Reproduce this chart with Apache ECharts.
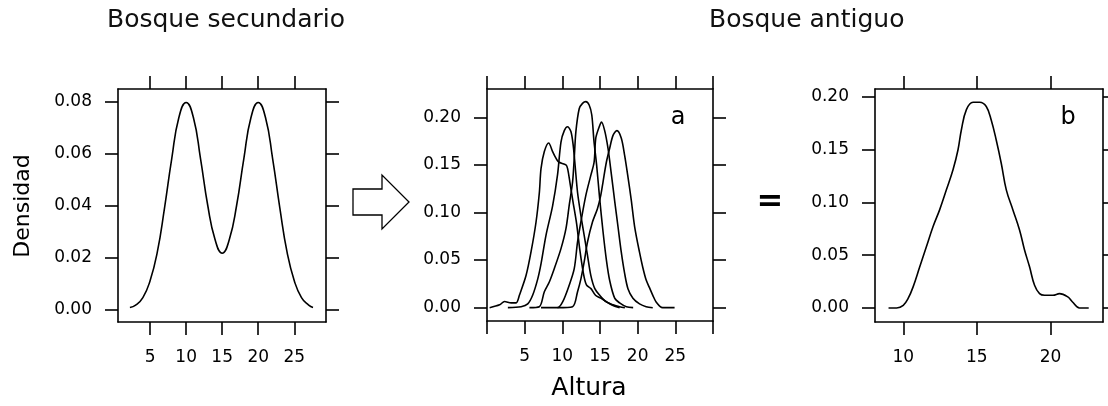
<!DOCTYPE html>
<html>
<head>
<meta charset="utf-8">
<script src="https://cdn.jsdelivr.net/npm/echarts@6/dist/echarts.min.js"></script>
<style>
html,body{margin:0;padding:0;background:#fff;}
#chart{width:1108px;height:406px;}
</style>
</head>
<body>
<div id="chart"></div>
<script>
// panel 1: bosque secundario
var secX = [2.2, 3, 4, 5, 6, 7, 8, 9, 10, 11, 12, 13, 14, 15, 16, 17, 18, 19, 20, 21, 22, 23, 24, 25, 26, 27, 27.6];
var secY = [0.0007, 0.0016, 0.0045, 0.011, 0.022, 0.039, 0.058, 0.074, 0.0797, 0.074, 0.058, 0.040, 0.027, 0.0216, 0.027, 0.040, 0.058, 0.074, 0.0797, 0.074, 0.058, 0.039, 0.022, 0.011, 0.0045, 0.0016, 0.0007];

// panel a: curvas desplazadas
var aX = [0.35, 1.67, 2.33, 3.21, 3.87, 4.31, 5.19, 5.85, 6.51, 6.95, 7.17, 7.61, 8.19, 8.71, 9.15, 9.5, 10.48, 10.7, 11.0, 11.4, 11.9, 12.3, 12.8, 13.2, 13.8, 14.4, 15.1, 16.1, 16.8, 17.6];
var aY = [0, 0.003, 0.0065, 0.005, 0.005, 0.0133, 0.034, 0.0588, 0.090, 0.121, 0.146, 0.164, 0.173, 0.164, 0.157, 0.153, 0.150, 0.146, 0.132, 0.112, 0.088, 0.062, 0.036, 0.024, 0.020, 0.013, 0.010, 0.005, 0.002, 0];
var bX = [2.77, 4.53, 5.41, 6.07, 6.73, 7.17, 7.83, 8.71, 9.37, 9.82, 10.26, 10.7, 11.14, 11.45, 11.71, 12.02, 12.46, 12.9, 13.34, 13.78, 14.31, 14.97, 15.85, 16.73, 17.61, 18.3];
var bY = [0, 0.001, 0.004, 0.0133, 0.030, 0.046, 0.076, 0.107, 0.140, 0.174, 0.186, 0.190, 0.185, 0.170, 0.148, 0.121, 0.097, 0.076, 0.055, 0.034, 0.020, 0.013, 0.006, 0.003, 0.001, 0];
var cX = [5.63, 6.95, 7.61, 8.27, 8.93, 9.82, 10.48, 10.92, 11.36, 11.58, 11.8, 12.24, 12.68, 13.12, 13.56, 13.91, 14.2, 14.55, 14.95, 15.4, 15.85, 16.3, 16.95, 17.6, 18.5, 19.4];
var cY = [0, 0.001, 0.0168, 0.027, 0.041, 0.062, 0.083, 0.108, 0.132, 0.157, 0.185, 0.209, 0.2146, 0.2164, 0.2129, 0.2024, 0.175, 0.150, 0.115, 0.080, 0.050, 0.028, 0.010, 0.005, 0.001, 0];
var dX = [7.17, 9.37, 10.04, 10.92, 11.58, 12.02, 12.46, 13.12, 13.78, 14.22, 14.44, 14.9, 15.19, 15.62, 16.07, 16.51, 16.95, 17.39, 17.83, 18.27, 18.71, 19.37, 20.25, 21.13, 22.0];
var dY = [0, 0, 0.006, 0.0238, 0.041, 0.069, 0.090, 0.118, 0.139, 0.153, 0.178, 0.190, 0.195, 0.186, 0.167, 0.140, 0.112, 0.085, 0.058, 0.036, 0.020, 0.010, 0.004, 0.001, 0];
var eX = [9.37, 11.36, 12.02, 12.46, 12.9, 13.34, 14.0, 14.66, 15.1, 15.4, 15.85, 16.3, 16.73, 17.25, 17.83, 18.27, 18.7, 19.15, 19.6, 20.25, 20.69, 21.13, 21.57, 22.01, 22.45, 23.3, 24.9];
var eY = [0, 0.001, 0.0168, 0.030, 0.048, 0.069, 0.090, 0.104, 0.118, 0.132, 0.153, 0.168, 0.181, 0.186, 0.178, 0.160, 0.138, 0.113, 0.085, 0.058, 0.042, 0.029, 0.021, 0.013, 0.006, 0, 0];

// panel b: bosque antiguo
var antX = [9.0, 9.55, 10.0, 10.33, 10.67, 11.12, 11.57, 12.02, 12.47, 12.93, 13.38, 13.72, 13.95, 14.29, 14.74, 15.19, 15.64, 15.98, 16.32, 16.66, 17.0, 17.45, 17.9, 18.24, 18.58, 18.92, 19.26, 19.6, 20.17, 20.62, 21.18, 21.5, 21.97, 22.6];
var antY = [0, 0, 0.0025, 0.009, 0.020, 0.039, 0.058, 0.077, 0.093, 0.112, 0.131, 0.150, 0.169, 0.188, 0.195, 0.195, 0.191, 0.178, 0.159, 0.137, 0.112, 0.093, 0.074, 0.055, 0.039, 0.0215, 0.0136, 0.012, 0.012, 0.0136, 0.0105, 0.0057, 0, 0];

// ticks
var secTicksX = [5, 10, 15, 20, 25];
var secTicksY = [0, 0.02, 0.04, 0.06, 0.08];
var aTicksX = [0, 5, 10, 15, 20, 25, 30];
var aLabelsX = [5, 10, 15, 20, 25];
var aTicksY = [0, 0.05, 0.10, 0.15, 0.20];
var antTicksX = [10, 15, 20];
var antTicksY = [0, 0.05, 0.10, 0.15, 0.20];

var FONT = 'DejaVu Sans';
var LW = 1.6;

function pares(xs, ys) {
	var out = [];
	for (var i = 0; i < xs.length; i++) out.push([xs[i], ys[i]]);
	return out;
}

function ejeX(g, min, max, ticks, labels, pos) {
	return {
		type: 'value', gridIndex: g, min: min, max: max, position: pos,
		axisLine: { show: true, onZero: false, lineStyle: { color: '#000', width: LW } },
		axisTick: { show: true, length: 13, customValues: ticks, lineStyle: { color: '#000', width: LW } },
		axisLabel: pos == 'bottom' ? {
			show: true, customValues: labels, margin: 27, fontSize: 17, fontFamily: FONT, color: '#000'
		} : { show: false },
		splitLine: { show: false }
	};
}

function ejeY(g, min, max, ticks, pos) {
	return {
		type: 'value', gridIndex: g, min: min, max: max, position: pos,
		axisLine: { show: true, onZero: false, lineStyle: { color: '#000', width: LW } },
		axisTick: { show: true, length: 13, customValues: ticks, lineStyle: { color: '#000', width: LW } },
		axisLabel: pos == 'left' ? {
			show: true, customValues: ticks, margin: 26, fontSize: 17, fontFamily: FONT, color: '#000',
			formatter: function (v) { return v.toFixed(2); }
		} : { show: false },
		splitLine: { show: false }
	};
}

function curva(xi, yi, xs, ys, smooth) {
	return {
		type: 'line', xAxisIndex: xi, yAxisIndex: yi, data: pares(xs, ys),
		showSymbol: false, smooth: smooth, silent: true,
		lineStyle: { color: '#000', width: LW }
	};
}

var myChart = echarts.init(document.getElementById('chart'), null, { renderer: 'canvas' });
var option = {
	backgroundColor: '#fff',
	animation: false,
	grid: [
		{ left: 118, top: 89, width: 208, height: 233 },
		{ left: 487, top: 89, width: 226, height: 232 },
		{ left: 875, top: 89, width: 228, height: 233 }
	],
	xAxis: [
		ejeX(0, 0.55, 29.4, secTicksX, secTicksX, 'bottom'),
		ejeX(0, 0.55, 29.4, secTicksX, secTicksX, 'top'),
		ejeX(1, 0, 30, aTicksX, aLabelsX, 'bottom'),
		ejeX(1, 0, 30, aTicksX, aLabelsX, 'top'),
		ejeX(2, 8.08, 23.57, antTicksX, antTicksX, 'bottom'),
		ejeX(2, 8.08, 23.57, antTicksX, antTicksX, 'top')
	],
	yAxis: [
		ejeY(0, -0.0049, 0.0849, secTicksY, 'left'),
		ejeY(0, -0.0049, 0.0849, secTicksY, 'right'),
		ejeY(1, -0.014, 0.2297, aTicksY, 'left'),
		ejeY(1, -0.014, 0.2297, aTicksY, 'right'),
		ejeY(2, -0.0133, 0.2076, antTicksY, 'left'),
		ejeY(2, -0.0133, 0.2076, antTicksY, 'right')
	],
	series: [
		curva(0, 0, secX, secY, true),
		curva(2, 2, aX, aY, 0.3),
		curva(2, 2, bX, bY, 0.3),
		curva(2, 2, cX, cY, 0.3),
		curva(2, 2, dX, dY, 0.3),
		curva(2, 2, eX, eY, 0.3),
		curva(4, 4, antX, antY, 0.4)
	],
	graphic: [
		{ type: 'text', left: 107, top: 8, style: { text: 'Bosque secundario', font: '25px "DejaVu Sans"', fill: '#111' } },
		{ type: 'text', left: 709, top: 8, style: { text: 'Bosque antiguo', font: '25px "DejaVu Sans"', fill: '#111' } },
		{ type: 'text', x: 23, y: 206, rotation: Math.PI / 2, style: { text: 'Densidad', font: '22px "DejaVu Sans"', fill: '#000', align: 'center', verticalAlign: 'middle' } },
		{ type: 'text', x: 589, y: 388, style: { text: 'Altura', font: '25px "DejaVu Sans"', fill: '#000', align: 'center', verticalAlign: 'middle' } },
		{ type: 'text', x: 678, y: 118, style: { text: 'a', font: '24px "DejaVu Sans"', fill: '#000', align: 'center', verticalAlign: 'middle' } },
		{ type: 'text', x: 1068, y: 118, style: { text: 'b', font: '24px "DejaVu Sans"', fill: '#000', align: 'center', verticalAlign: 'middle' } },
		{ type: 'text', x: 770, y: 203, style: { text: '=', font: 'bold 32px "DejaVu Sans"', fill: '#000', align: 'center', verticalAlign: 'middle' } },
		{
			type: 'polygon',
			shape: { points: [[353, 189], [382, 189], [382, 175], [409, 202], [382, 229], [382, 215], [353, 215]] },
			style: { fill: '#fff', stroke: '#000', lineWidth: 1.3 }
		}
	]
};
myChart.setOption(option);
</script>
</body>
</html>
